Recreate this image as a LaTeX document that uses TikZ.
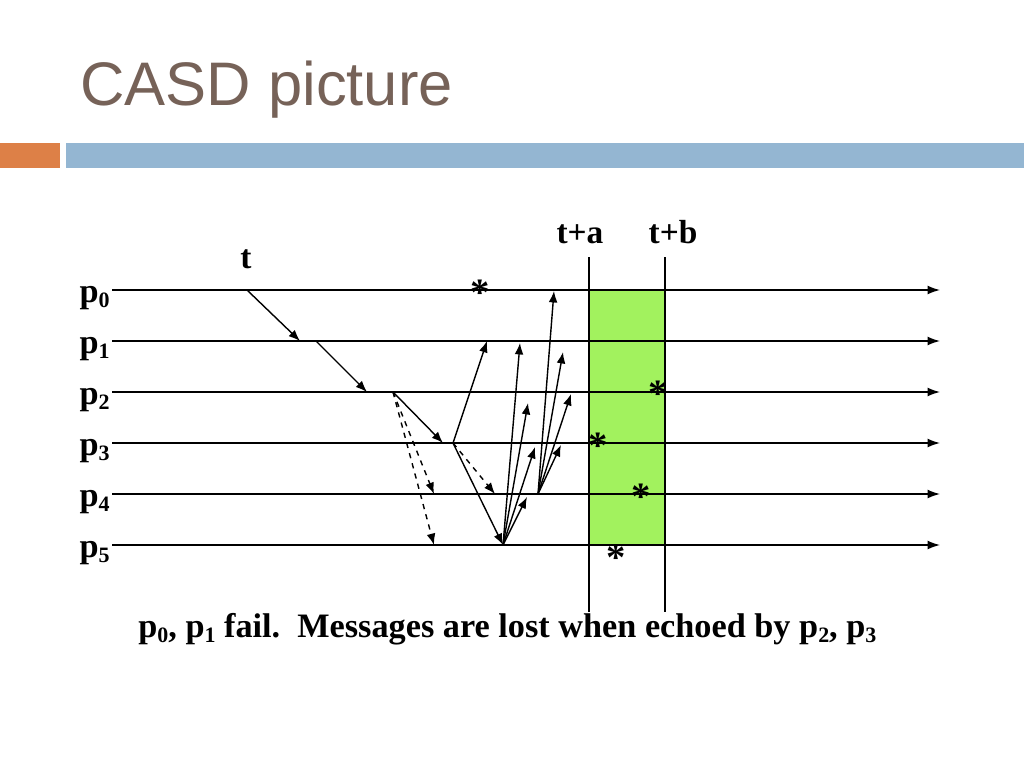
\documentclass[tikz,border=0pt]{standalone}
\usepackage{fontspec}
\setmainfont{Liberation Serif}
\newfontfamily\titlefont{Liberation Sans}
\usetikzlibrary{arrows.meta}

\definecolor{titlebrown}{RGB}{118,98,88}
\definecolor{barorange}{RGB}{221,128,71}
\definecolor{barblue}{RGB}{148,182,210}
\definecolor{windowgreen}{RGB}{162,242,94}

\newcommand{\pid}[1]{p\raisebox{-0.35ex}{\fontsize{12.5}{12.5}\selectfont #1}}

\begin{document}
\begin{tikzpicture}[x=0.02cm,y=-0.02cm,
    proc/.style={draw,line width=0.8pt,-{Latex[length=7pt,width=5pt]}},
    msg/.style={draw,line width=0.8pt,-{Latex[length=6.5pt,width=5pt]}},
    lost/.style={msg,dashed},
    plabel/.style={anchor=base east,inner sep=0pt,font=\bfseries\fontsize{19.5}{19.5}\selectfont},
    tlabel/.style={anchor=base,inner sep=0pt,font=\bfseries\fontsize{19}{19}\selectfont},
    crash/.style={inner sep=0pt,yshift=-3.5pt,font=\bfseries\fontsize{22}{22}\selectfont}
]
    \useasboundingbox (0,0) rectangle (1024,768);

    \node [anchor=base west,inner sep=0pt,text=titlebrown,font=\titlefont\fontsize{35}{35}\selectfont] (title) at (80,105) {CASD picture};
    \fill [barorange] (0,143) rectangle (60,168);
    \fill [barblue] (66,143) rectangle (1024,168);

    \filldraw [fill=windowgreen,draw=black,line width=0.9pt] (589,290) rectangle (665,545);

    \foreach \i/\y in {0/290,1/341,2/392,3/443,4/494,5/545} {
        \node [plabel] (p\i) at (110,\y+12) {\pid{\i}};
        \coordinate (s\i) at (112,\y);
        \coordinate (e\i) at (940,\y);
        \draw [proc] (s\i) -- (e\i);
    }

    \coordinate (tatop) at (589,257);
    \coordinate (tabot) at (589,612);
    \coordinate (tbtop) at (665,257);
    \coordinate (tbbot) at (665,612);
    \draw [line width=0.7pt] (tatop) -- (tabot);
    \draw [line width=0.7pt] (tbtop) -- (tbbot);

    \node [tlabel] (t) at (246,268) {t};
    \node [tlabel] (ta) at (580,243) {t+a};
    \node [tlabel] (tb) at (673,243) {t+b};

    \coordinate (t0) at (247,290);
    \coordinate (a1) at (300,341);
    \coordinate (b1) at (316,341);
    \coordinate (a2) at (367,392);
    \coordinate (b2) at (393,392);
    \coordinate (a3) at (443,443);
    \coordinate (l4) at (434,494);
    \coordinate (l5) at (434,545);
    \coordinate (b3) at (453,443);
    \coordinate (r1) at (487,341);
    \coordinate (m4) at (495,494);
    \coordinate (c5) at (503,545);
    \coordinate (u1) at (520,343);
    \coordinate (u2) at (528,403);
    \coordinate (u3) at (535,447);
    \coordinate (u4) at (527,497);
    \coordinate (c4) at (538,494);
    \coordinate (v0) at (554,291);
    \coordinate (v1) at (563,352);
    \coordinate (v2) at (571,394);
    \coordinate (v3) at (561,445);

    \draw [msg] (t0) -- (a1);
    \draw [msg] (b1) -- (a2);
    \draw [msg] (b2) -- (a3);
    \draw [lost] (b2) -- (l4);
    \draw [lost] (b2) -- (l5);
    \draw [msg] (b3) -- (r1);
    \draw [lost] (b3) -- (m4);
    \draw [msg] (b3) -- (c5);
    \draw [msg] (c5) -- (u1);
    \draw [msg] (c5) -- (u2);
    \draw [msg] (c5) -- (u3);
    \draw [msg] (c5) -- (u4);
    \draw [msg] (c4) -- (v0);
    \draw [msg] (c4) -- (v1);
    \draw [msg] (c4) -- (v2);
    \draw [msg] (c4) -- (v3);

    \node [crash] (x0) at (480,287) {*};
    \node [crash] (x2) at (658,388) {*};
    \node [crash] (x3) at (598,440) {*};
    \node [crash] (x4) at (641,491) {*};
    \node [crash] (x5) at (616,552) {*};

    \node [anchor=base west,inner sep=0pt,font=\bfseries\fontsize{19.5}{19.5}\selectfont] (note) at (138,637)
        {\pid{0}, \pid{1} fail.\ \ Messages are lost when echoed by \pid{2}, \pid{3}};
\end{tikzpicture}
\end{document}
